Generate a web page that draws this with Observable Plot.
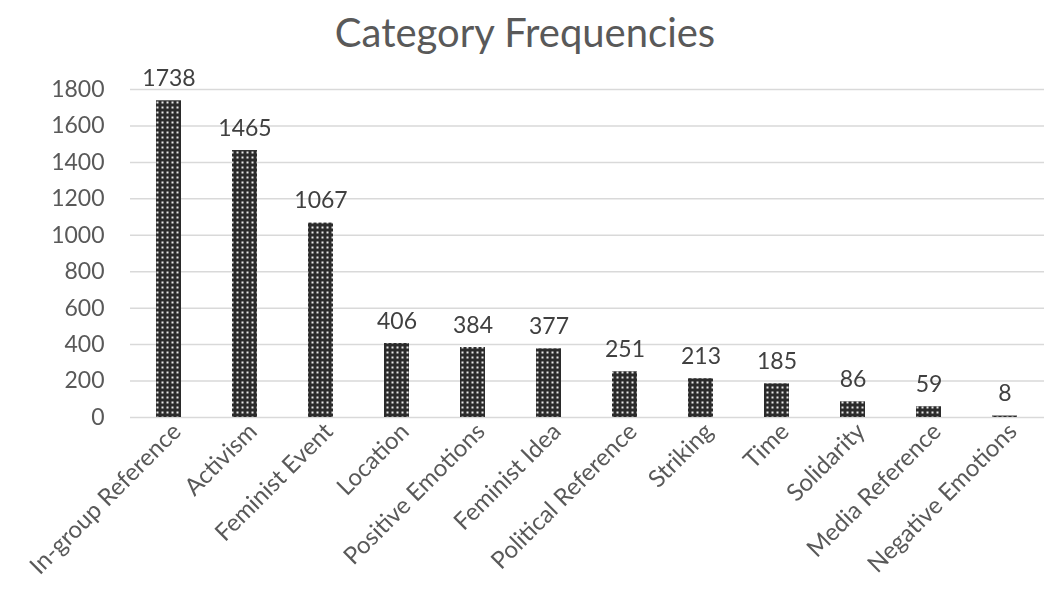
<!DOCTYPE html>
<html>
<head>
<meta charset="utf-8">
<script src="https://cdn.jsdelivr.net/npm/d3@7"></script>
<script src="https://cdn.jsdelivr.net/npm/@observablehq/plot@0.6"></script>
<style>
  body { margin: 0; background: #fff; font-family: Lato, "Open Sans", sans-serif; }
  #title { height: 60px; line-height: 64px; text-align: center; font-size: 40px; color: #595959; padding-left: 4px; }
  #chart svg { filter: grayscale(1); }
</style>
</head>
<body>
<div id="title">Category Frequencies</div>
<div id="chart"></div>
<script>
const categories = ["In-group Reference", "Activism", "Feminist Event", "Location", "Positive Emotions", "Feminist Idea", "Political Reference", "Striking", "Time", "Solidarity", "Media Reference", "Negative Emotions"];
const counts = [1738, 1465, 1067, 406, 384, 377, 251, 213, 185, 86, 59, 8];
const yTicks = [0, 200, 400, 600, 800, 1000, 1200, 1400, 1600, 1800];

const data = categories.map((c, i) => ({category: c, count: counts[i]}));

const chart = Plot.plot({
  width: 1046,
  height: 539,
  marginLeft: 130,
  marginRight: 2,
  marginTop: 29,
  marginBottom: 182,
  style: {fontFamily: "Lato, 'Open Sans', sans-serif", fontSize: "23px", color: "#595959"},
  x: {domain: categories, paddingInner: 0.67, paddingOuter: 0.335, label: null},
  y: {domain: [0, 1800], label: null},
  marks: [
    Plot.gridY(yTicks, {stroke: "#d9d9d9", strokeOpacity: 1, strokeWidth: 1.5}),
    Plot.axisY({ticks: yTicks, tickSize: 0, tickPadding: 26, fontSize: 23, tickFormat: d => String(d), label: null}),
    Plot.axisX({tickSize: 0, tickPadding: 10, tickRotate: -45, fontSize: 24, dx: 8, label: null}),
    Plot.barY(data, {x: "category", y: "count", fill: "url(#dots)"}),
    Plot.text(data, {x: "category", y: "count", text: d => String(d.count), dy: -15, lineAnchor: "bottom", fontSize: 23, fill: "#404040"})
  ]
});

const ns = "http://www.w3.org/2000/svg";
const defs = document.createElementNS(ns, "defs");
defs.innerHTML = `<pattern id="dots" patternUnits="userSpaceOnUse" width="5" height="5">
  <rect width="5" height="5" fill="#2b2b2b"/>
  <rect x="1.5" y="1.5" width="2" height="2" fill="#e8e8e8"/>
</pattern>`;
chart.insertBefore(defs, chart.firstChild);
document.getElementById("chart").appendChild(chart);
</script>
</body>
</html>
